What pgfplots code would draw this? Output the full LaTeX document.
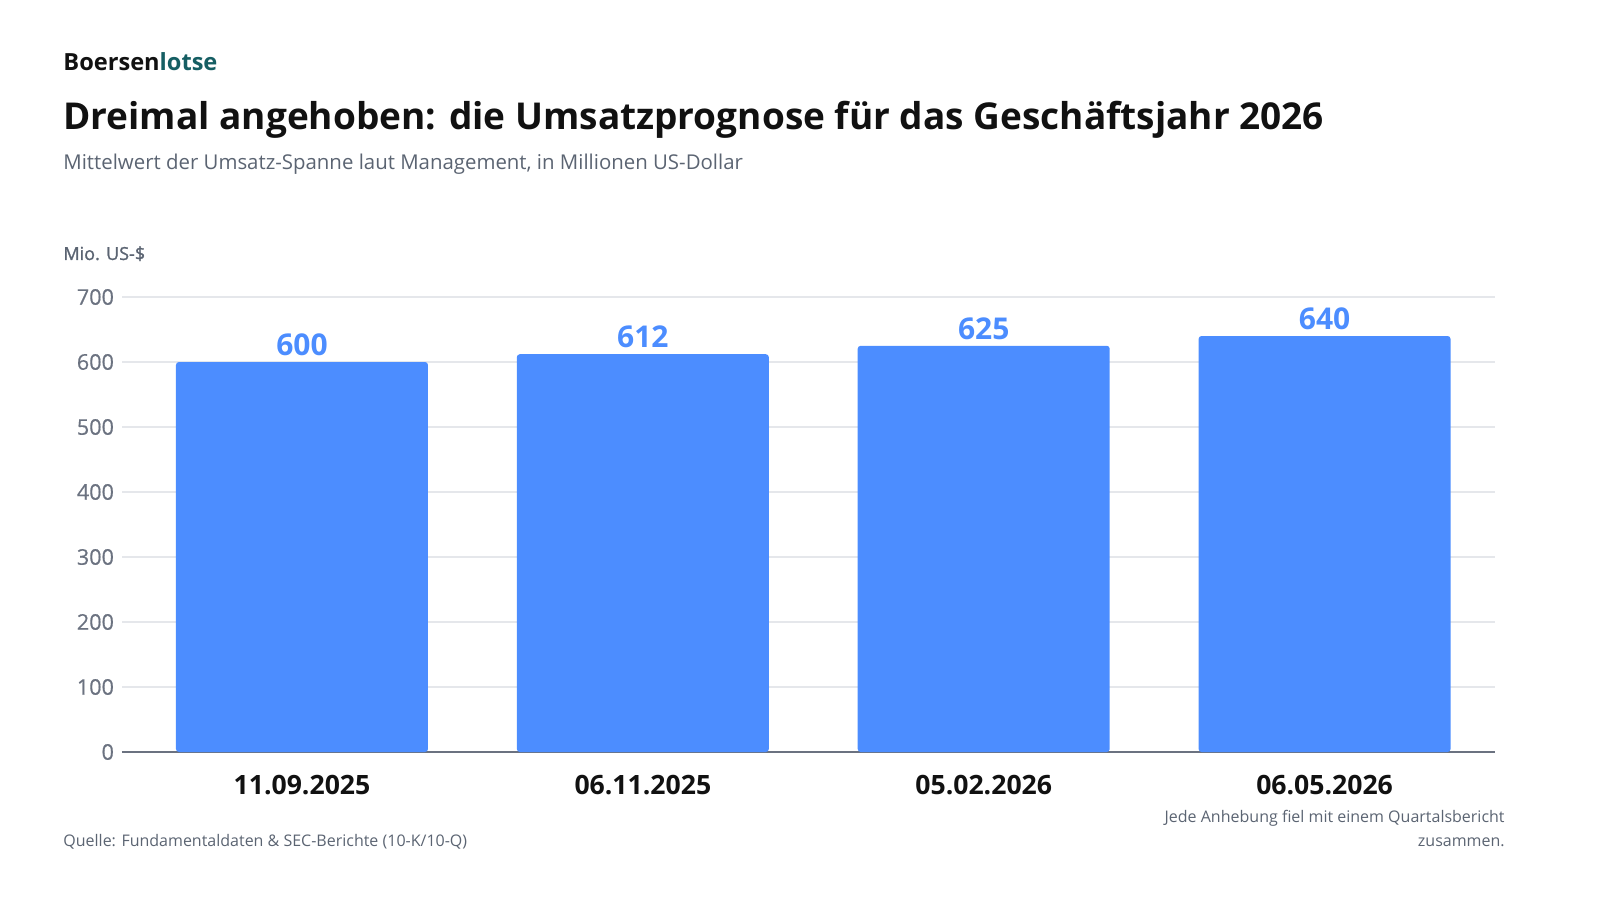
\documentclass[border=0pt]{standalone}
\usepackage{fontspec}
\setmainfont{Open Sans}
\newfontfamily\medfont[FakeBold=0.5]{Open Sans}
\newfontfamily\semifont[FakeBold=1.2]{Open Sans}
\usepackage{pgfplots}
\pgfplotsset{compat=1.18}
\definecolor{barblue}{HTML}{4C8DFF}
\definecolor{logoteal}{HTML}{155E63}
\definecolor{titleblack}{HTML}{111111}
\definecolor{subgray}{HTML}{5B6472}
\definecolor{tickgray}{HTML}{6B7280}
\definecolor{gridgray}{HTML}{E5E7EB}
\definecolor{axisgray}{HTML}{6B7280}
\begin{document}%
\begin{tikzpicture}
\begin{axis}[
  name=ax,
  scale only axis, width=686.5pt, height=227.5pt,
  ymin=0, ymax=700, xmin=-0.528, xmax=3.5,
  ytick={0,100,...,700},
  xtick=data,
  xticklabels={11.09.2025,06.11.2025,05.02.2026,06.05.2026},
  axis x line*=bottom, axis y line*=left,
  x axis line style={axisgray, line width=1pt, -},
  y axis line style={draw=none},
  ymajorgrids, grid style={gridgray, line width=0.6pt},
  major tick length=0pt,
  ytick style={draw=none}, xtick style={draw=none},
  yticklabel style={font=\fontsize{10.8}{12}\medfont, text=tickgray, xshift=-0.5pt},
  xticklabel style={font=\fontsize{13.3}{15}\selectfont\bfseries, text=titleblack, yshift=-8pt},
  /pgf/number format/assume math mode=true,
  ybar, bar width=126pt, bar shift=0pt,
  nodes near coords,
  every node near coord/.append style={font=\fontsize{15}{17}\selectfont\bfseries, text=barblue, yshift=-0.5pt},
  clip=false,
]
\addplot[fill=barblue, draw=none, rounded corners=1.5pt] coordinates {(0,600) (1,612) (2,625) (3,640)};
\end{axis}
\pgfresetboundingbox
\begin{scope}[shift={(ax.south west)}, x=1pt, y=1pt, shift={(-61,-74)}]
\path[use as bounding box] (0,0) rectangle (800,450);
\node[anchor=base west,inner sep=0,font=\fontsize{11.8}{13}\selectfont\bfseries] at (31.5,414.5) {\textcolor{titleblack}{Boersen}\textcolor{logoteal}{lotse}};
\node[anchor=base west,inner sep=0,font=\fontsize{18.5}{22}\selectfont\bfseries,text=titleblack] at (31.5,385) {Dreimal angehoben: die Umsatzprognose für das Geschäftsjahr 2026};
\node[anchor=base west,inner sep=0,font=\fontsize{10.2}{12}\selectfont,text=subgray] at (31.5,365) {Mittelwert der Umsatz-Spanne laut Management, in Millionen US-Dollar};
\node[anchor=base west,inner sep=0,font=\fontsize{9}{11}\semifont,text=subgray] at (31.5,320) {Mio. US-\$};
\node[anchor=base west,inner sep=0,font=\fontsize{8}{10}\selectfont,text=subgray] at (31.5,27) {Quelle: Fundamentaldaten \& SEC-Berichte (10-K/10-Q)};
\node[anchor=base east,inner sep=0,font=\fontsize{8}{10}\selectfont,text=subgray] at (752.5,39) {Jede Anhebung fiel mit einem Quartalsbericht};
\node[anchor=base east,inner sep=0,font=\fontsize{8}{10}\selectfont,text=subgray] at (752.5,27) {zusammen.};
\end{scope}
\end{tikzpicture}%
\end{document}
